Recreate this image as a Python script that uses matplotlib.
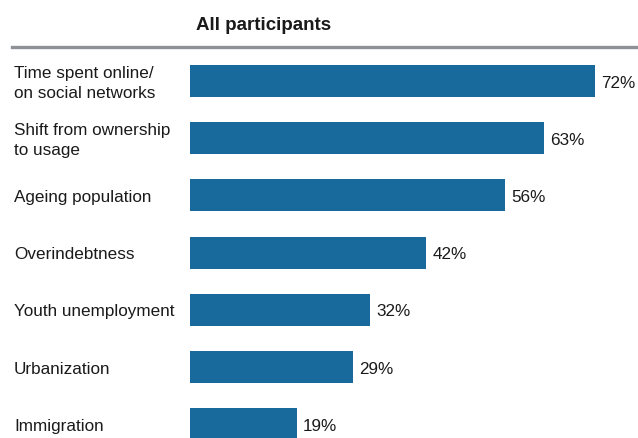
import matplotlib
matplotlib.use("Agg")
import matplotlib.pyplot as plt
from matplotlib.lines import Line2D

plt.rcParams["font.family"] = ["Liberation Sans", "DejaVu Sans"]

categories = ["Time spent online/\non social networks", "Shift from ownership\nto usage",
              "Ageing population", "Overindebtness", "Youth unemployment",
              "Urbanization", "Immigration"]
values = [72, 63, 56, 42, 32, 29, 19]

W, H = 638, 439
fig = plt.figure(figsize=(W / 100, H / 100), dpi=100)

# axes placed in pixel terms: bars start at x=190, rows from y=50 down to bottom
ax = fig.add_axes([190 / W, 0, 448 / W, (439 - 50) / H])
px_per_unit = 5.625
ax.set_xlim(0, 448 / px_per_unit)
row = 57.2
ax.set_ylim((439 - 82) / row, -(82 - 50) / row)

pos = list(range(len(values)))
ax.barh(pos, values, height=32 / row, color="#176a9b", edgecolor="none")
for p, v, c in zip(pos, values, categories):
    ax.text(v + 6 / px_per_unit, p + 0.02, f"{v}%", va="center", ha="left", fontsize=12.3,
            color="#1a1a1a")
    ax.text(-176 / px_per_unit, p + 0.02, c, va="center", ha="left", fontsize=12.3,
            color="#1a1a1a", linespacing=1.4)

ax.axis("off")

fig.text(264 / W, 1 - 25 / H, "All participants", ha="center", va="center",
         fontsize=13.5, fontweight="bold", color="#1a1a1a")
fig.add_artist(Line2D([12 / W, 1], [1 - 48 / H, 1 - 48 / H], transform=fig.transFigure,
                      color="#8e9297", linewidth=2.4))

fig.savefig("out.png", dpi=100)
